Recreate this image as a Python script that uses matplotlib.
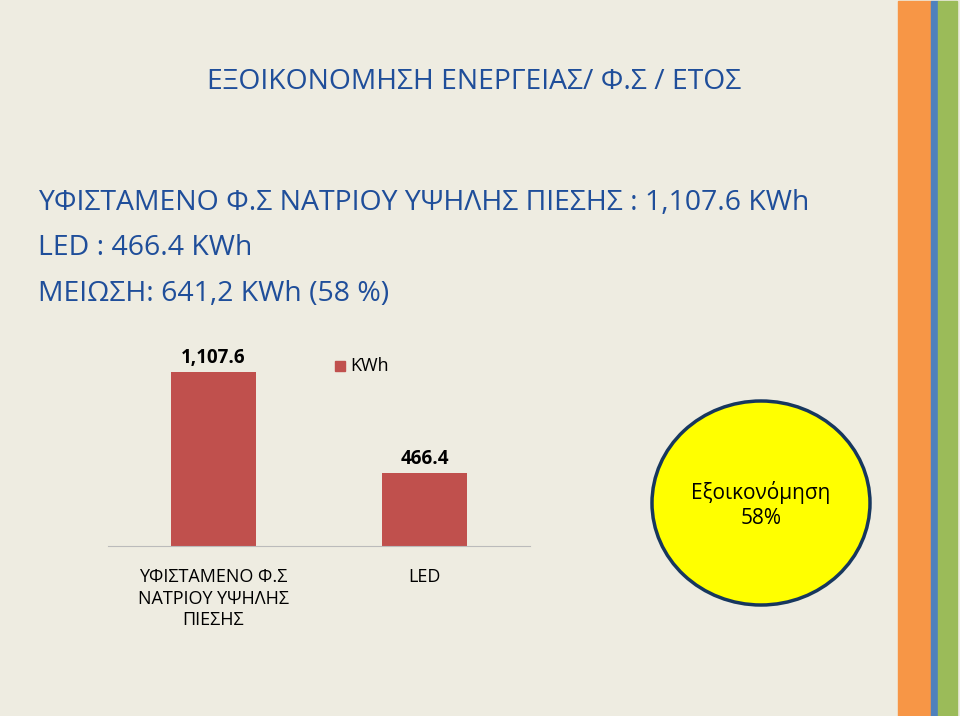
import matplotlib.pyplot as plt
from matplotlib.patches import Ellipse, Rectangle

categories = ["ΥΦΙΣΤΑΜΕΝΟ Φ.Σ\nΝΑΤΡΙΟΥ ΥΨΗΛΗΣ\nΠΙΕΣΗΣ", "LED"]
values = [1107.6, 466.4]
labels = ["1,107.6", "466.4"]

W, H = 960, 716
fig = plt.figure(figsize=(W/100, H/100), dpi=100)
fig.patch.set_facecolor("#EEECE1")
plt.rcParams['font.family'] = ['Open Sans', 'DejaVu Sans']

def fx(x): return x / W
def fy(y): return 1 - y / H

# side stripes
for x0, x1, c in [(898, 931, "#F79646"), (931, 938, "#4F81BD"), (938, 957, "#9BBB59")]:
    fig.patches.append(Rectangle((fx(x0), 0), fx(x1 - x0), fy(1), transform=fig.transFigure, color=c))

blue = "#1F4E9A"
fig.text(fx(207), fy(82), "ΕΞΟΙΚΟΝΟΜΗΣΗ ΕΝΕΡΓΕΙΑΣ/ Φ.Σ / ΕΤΟΣ", color=blue, fontsize=20.3, va="center")
fig.text(fx(38), fy(203), "ΥΦΙΣΤΑΜΕΝΟ Φ.Σ ΝΑΤΡΙΟΥ ΥΨΗΛΗΣ ΠΙΕΣΗΣ : 1,107.6 KWh", color=blue, fontsize=20.4, va="center")
fig.text(fx(38), fy(248), "LED : 466.4 KWh", color=blue, fontsize=20.4, va="center")
fig.text(fx(38), fy(294), "ΜΕΙΩΣΗ: 641,2 KWh (58 %)", color=blue, fontsize=20.4, va="center")

ax = fig.add_axes([fx(108), fy(546), fx(530 - 108), fy(357) - fy(546)])
ax.patch.set_alpha(0)
ax.bar(range(len(values)), values, width=0.4, color="#C0504D")
ax.set_xlim(-0.5, 1.5)
ax.set_ylim(0, 1200)
for s in ["top", "left", "right"]:
    ax.spines[s].set_visible(False)
ax.spines["bottom"].set_color("#BBBBBB")
ax.set_yticks([])
ax.set_xticks(range(len(values)))
ax.set_xticklabels(categories, fontsize=13, linespacing=1.25)
ax.tick_params(axis="x", length=0, pad=16)
for i, (v, l) in enumerate(zip(values, labels)):
    ax.text(i, v + 25, l, ha="center", va="bottom", fontsize=13.5, fontweight="bold")

fig.patches.append(Rectangle((fx(335), fy(371)), fx(10), fy(361) - fy(371), transform=fig.transFigure, color="#C0504D"))
fig.text(fx(350), fy(366), "KWh", fontsize=13, va="center")

e = Ellipse((fx(761), fy(503)), fx(218), fy(401) - fy(605), transform=fig.transFigure,
            facecolor="#FFFF00", edgecolor="#17375E", linewidth=2.5)
fig.patches.append(e)
fig.text(fx(761), fy(505), "Εξοικονόμηση\n58%", ha="center", va="center", fontsize=15, linespacing=1.3)

fig.savefig("out.png", dpi=100, facecolor=fig.get_facecolor())
